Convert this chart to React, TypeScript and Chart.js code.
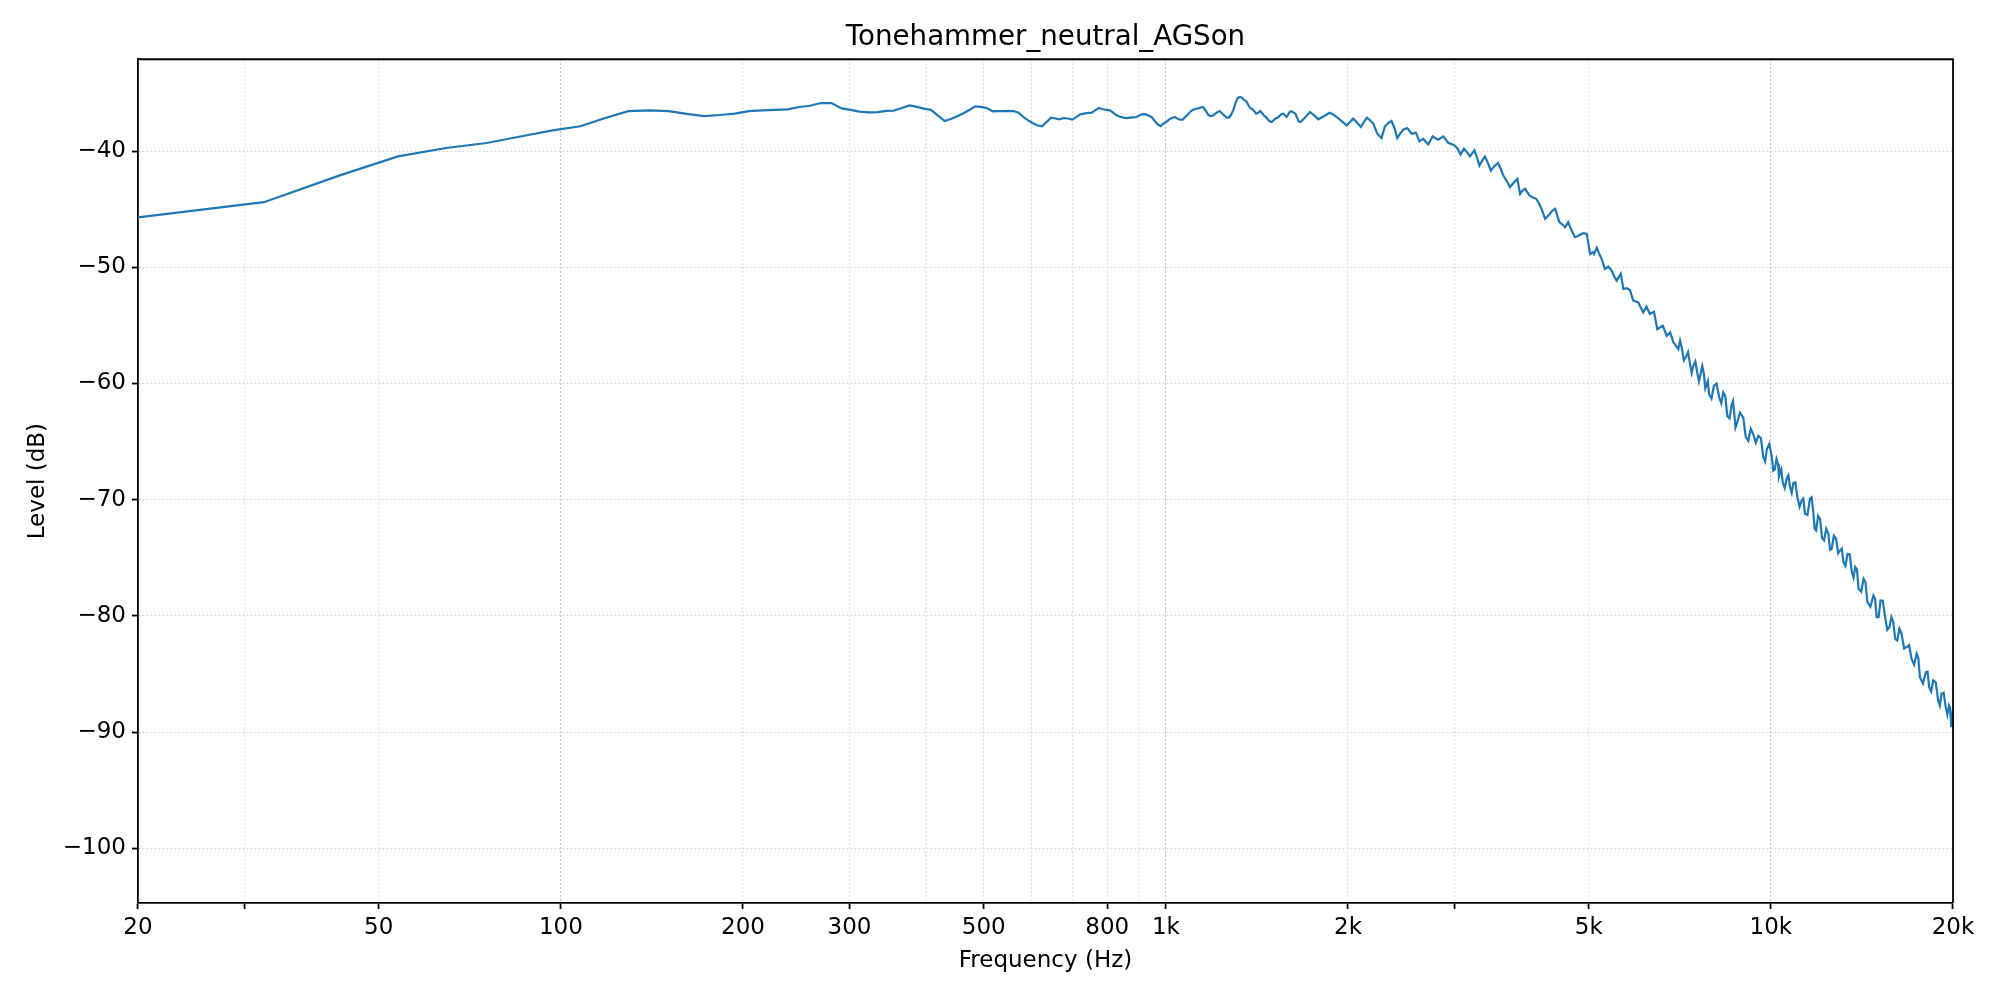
import { useEffect, useRef } from 'react'
import { Chart, registerables } from 'chart.js'

Chart.register(...registerables)

// frequency response (Hz / dB)
const freqs = [
  20, 32.3, 43.1, 53.8, 64.6, 75.4, 86.1, 96.9, 107.7, 118.4, 129.2, 140, 150.7, 161.5, 172.3, 183,
  193.8, 204.5, 215, 226, 237, 248, 258, 269, 280, 291, 301, 312, 323, 334, 345, 355, 366, 377,
  388, 398, 409, 420, 431, 441, 452, 463, 474, 484, 495, 506, 517, 527, 538, 549, 560, 571, 581,
  592, 603, 614, 624, 635, 646, 657, 667, 678, 689, 700, 710, 721, 732, 743, 754, 764, 775, 786,
  797, 808, 818, 829, 840, 851, 861, 872, 883, 894, 904, 915, 926, 937, 947, 958, 969, 980, 990,
  1001, 1012, 1023, 1034, 1044, 1055, 1066, 1077, 1088, 1098, 1109, 1120, 1131, 1141, 1152, 1163,
  1174, 1184, 1195, 1206, 1217, 1227, 1238, 1249, 1260, 1270, 1281, 1292, 1303, 1314, 1324, 1335,
  1346, 1357, 1367, 1378, 1389, 1399, 1410, 1421, 1432, 1443, 1453, 1464, 1475, 1486, 1496, 1507,
  1518, 1529, 1540, 1550, 1561, 1572, 1583, 1593, 1604, 1615, 1626, 1636, 1647, 1658, 1669,
  1700, 1730, 1760, 1786, 1825, 1864, 1890, 1916, 1950, 1990, 2040, 2070, 2100, 2148, 2175, 2202,
  2236, 2272, 2302, 2330, 2360, 2390, 2412, 2440, 2468, 2506, 2548, 2590, 2624, 2662, 2714, 2760,
  2790, 2820, 2874, 2900, 2930, 2965, 3000, 3035, 3070, 3110, 3145, 3182, 3236, 3265, 3298, 3335,
  3368, 3405, 3444, 3490, 3540, 3575, 3612, 3660, 3704, 3760, 3810, 3850, 3885, 3924, 3990, 4050,
  4090, 4128, 4180, 4234, 4288, 4340, 4400, 4470, 4520, 4568, 4624, 4680, 4744, 4800, 4836, 4898,
  4962, 5026, 5080, 5102, 5156, 5200, 5250, 5318, 5386, 5456, 5510, 5560, 5648, 5704, 5780, 5848,
  5924, 6038, 6100, 6152, 6230, 6310, 6410, 6490, 6626, 6728, 6814, 6902, 7032, 7122, 7240, 7352,
  7444, 7556, 7652, 7752, 7830, 7904, 8050, 8216, 8344, 8472, 8616, 8700, 8780, 9002, 9174, 9352,
  9532, 9720, 9848, 10032, 10152, 10280, 10346, 10460, 10620, 10758, 10894, 11060, 11246, 11386,
  11604, 11752, 11878, 12058, 12244, 12446, 12604, 12818, 13014, 13182, 13386, 13610, 13786, 13964,
  14234, 14438, 14774, 14956, 15180, 15446, 15706, 15932, 16180, 16444, 16764, 17084, 17416, 17634,
  18042, 18266, 18546, 18904, 19146, 19454, 19700, 19866, 20000,
]

const levels = [
  -45.7, -44.4, -42.09, -40.46, -39.74, -39.31, -38.73, -38.22, -37.87, -37.16, -36.56, -36.5, -36.56, -36.8, -36.99, -36.9,
  -36.78, -36.56, -36.5, -36.45, -36.41, -36.21, -36.1, -35.87, -35.87, -36.33, -36.45, -36.6, -36.67, -36.65, -36.55, -36.52, -36.3, -36.07,
  -36.2, -36.35, -36.45, -36.95, -37.42, -37.25, -37.0, -36.75, -36.45, -36.15, -36.2, -36.3, -36.58, -36.57, -36.56, -36.55, -36.56, -36.7, -37.05,
  -37.36, -37.6, -37.8, -37.87, -37.5, -37.13, -37.2, -37.27, -37.16, -37.2, -37.3, -37.1, -36.85, -36.78, -36.72, -36.7, -36.5, -36.3, -36.4,
  -36.45, -36.5, -36.7, -36.93, -37.05, -37.12, -37.16, -37.13, -37.1, -37.07, -36.95, -36.82, -36.85, -36.97, -37.07, -37.4, -37.7, -37.85, -37.65,
  -37.5, -37.3, -37.15, -37.07, -37.2, -37.3, -37.3, -37.05, -36.84, -36.6, -36.45, -36.38, -36.33, -36.25, -36.21, -36.5,
  -36.85, -36.99, -36.95, -36.8, -36.65, -36.56, -36.75, -36.95, -37.1, -37.13, -36.9, -36.5, -35.9, -35.45, -35.35, -35.4,
  -35.6, -35.7, -36.0, -36.3, -36.4, -36.55, -36.78, -36.7, -36.56, -36.75, -36.95, -37.07, -37.3, -37.45, -37.5, -37.35,
  -37.2, -37.13, -37.0, -36.85, -36.78, -36.9, -37.07, -36.85, -36.6, -36.58, -36.7, -36.78, -37.1, -37.45, -37.5,
  -37.1, -36.64, -36.95, -37.27, -37.0, -36.7, -36.85, -37.07, -37.4, -37.79, -37.21, -37.55, -37.93, -37.13, -37.35, -37.64,
  -38.51, -38.88, -37.87, -37.6, -37.41, -38.1, -38.88, -38.5, -38.16, -38.02, -38.51, -38.42, -39.17, -38.94, -39.43, -38.74,
  -38.9, -39.02, -38.74, -39.0, -39.31, -39.4, -39.51, -39.8, -40.29, -39.8, -40.1, -40.46, -39.94, -40.5, -41.24, -40.8,
  -40.46, -41.0, -41.67, -41.3, -41.03, -41.5, -42.1, -42.6, -43.1, -42.7, -42.39, -43.68, -43.4, -43.25, -43.82, -44.02,
  -44.1, -44.4, -45.0, -45.83, -45.55, -45.2, -44.97, -46.12, -46.3, -46.55, -46.12, -46.8, -47.41, -47.3, -47.2, -47.07,
  -47.13, -48.85, -48.7, -48.85, -48.33, -48.8, -49.28, -50.14, -49.94, -50.29, -50.8, -51.15, -50.57, -51.87, -51.8, -51.95,
  -52.87, -53.02, -53.5, -53.88, -53.39, -54.02, -53.82, -55.32, -55.03, -55.89, -55.6, -56.47, -57.04, -56.9, -57.7, -58.33,
  -58.48, -59.05, -59.2, -59.2, -60.1, -60.92, -60.2, -61.21, -60.78, -62.79, -61.78, -62.6, -63.51, -62.93, -64.94, -64.37,
  -64.51, -66.38, -65.66, -66.24, -67.39, -66.95, -67.76, -68.48, -68.19, -68.91, -68.57, -69.77, -70.06, -71.2,
  -69.91, -71.06, -72.64, -71.64, -73.5, -72.93, -74.22, -73.36, -74.36, -75.37, -74.65, -76.23, -75.8, -77.66,
  -76.8, -78.81, -78.24, -80.1, -78.67, -80.1, -80.96, -80.53, -82.11, -81.54, -82.68, -83.69, -83.26, -85.27,
  -84.84, -86.13, -85.55, -87.27, -86.7, -87.85, -87.7, -89.57, -89.28,
]

// extra in-between readings of the noisy top end (7k-20k)
const fineFreqs = [
  7077, 7181, 7296, 7398, 7500, 7604, 7702, 7791, 7867, 7977, 8133, 8280, 8408, 8544, 8658, 8740,
  8891, 9088, 9263, 9442, 9626, 9784, 9940, 10092, 10216, 10313, 10403, 10540, 10689, 10826, 10977,
  11153, 11316, 11495, 11678, 11815, 11968, 12151, 12345, 12525, 12711, 12916, 13098, 13284, 13498,
  13698, 13875, 14099, 14336, 14606, 14865, 15068, 15313, 15576, 15819, 16056, 16312, 16604, 16924,
  17250, 17525, 17838, 18154, 18406, 18725, 19025, 19300, 19577, 19783, 19933,
]
const fineLevels = [
  -56.3, -58.0, -57.3, -59.1, -58.1, -59.8, -58.5, -60.4, -59.8, -61.3, -60.0, -61.7, -61.1, -63.0, -61.5, -63.8,
  -62.5, -64.6, -63.9, -65.1, -64.7, -66.7, -65.2, -67.5, -66.5, -68.0, -67.4, -69.0, -67.9, -69.4, -68.5,
  -70.6, -69.9, -71.3, -69.8, -72.5, -71.4, -73.3, -72.5, -74.3, -73.1, -74.6, -74.2, -75.7, -74.7,
  -76.7, -76.0, -77.9, -77.1, -79.2, -78.5, -80.1, -78.7, -81.2, -80.1, -82.0, -81.1, -82.8, -82.5,
  -84.2, -83.6, -85.8, -84.8, -86.5, -85.7, -87.7, -86.6, -88.5, -87.9, -88.8,
]

// x gridlines / ticks
const xTickValues = [20, 30, 50, 100, 200, 300, 400, 500, 600, 700, 800, 900, 1000, 2000, 3000, 5000, 10000, 20000]
const xTickLabels = ['20', '', '50', '100', '200', '300', '', '500', '', '', '800', '', '1k', '2k', '', '5k', '10k', '20k']
const xNoTickMark = [400, 600, 700, 900]
const xDecades = [100, 1000, 10000]
const yTickValues = [-100, -90, -80, -70, -60, -50, -40]

const FONT = "'DejaVu Sans', sans-serif"

const frame = {
  id: 'frame',
  afterDatasetsDraw(chart: any) {
    const { ctx, chartArea } = chart
    ctx.save()
    ctx.strokeStyle = '#000'
    ctx.lineWidth = 1.8
    ctx.beginPath()
    ctx.moveTo(chartArea.left, chartArea.top)
    ctx.lineTo(chartArea.right, chartArea.top)
    ctx.lineTo(chartArea.right, chartArea.bottom)
    ctx.stroke()
    ctx.restore()
  },
}

export default function App() {
  const canvasRef = useRef<HTMLCanvasElement>(null)
  const chartRef = useRef<Chart | null>(null)

  useEffect(() => {
    if (!canvasRef.current) return
    const points = freqs.map((f, i) => ({ x: f, y: levels[i] }))
      .concat(fineFreqs.map((f, i) => ({ x: f, y: fineLevels[i] })))
      .sort((a, b) => a.x - b.x)

    const config: any = {
      type: 'scatter',
      data: {
        datasets: [{
          data: points,
          showLine: true,
          borderColor: '#1f77b4',
          borderWidth: 2.2,
          pointRadius: 0,
          tension: 0,
        }],
      },
      options: {
        animation: false,
        responsive: true,
        maintainAspectRatio: false,
        devicePixelRatio: 1,
        layout: { padding: { left: 0, right: 47, top: 0, bottom: 0 } },
        plugins: {
          legend: { display: false },
          tooltip: { enabled: false },
          title: {
            display: true,
            text: 'Tonehammer_neutral_AGSon',
            color: '#000',
            fullSize: false,
            font: { family: FONT, size: 27.7, weight: 'normal', lineHeight: 1.2 },
            padding: { top: 21, bottom: 5 },
          },
        },
        scales: {
          x: {
            type: 'logarithmic',
            min: 20,
            max: 20000,
            afterBuildTicks: (scale: any) => {
              scale.ticks = xTickValues.map(v => ({ value: v }))
            },
            afterFit: (scale: any) => { scale.height = 97 },
            ticks: {
              autoSkip: false,
              maxRotation: 0,
              color: '#000',
              padding: 5,
              font: { family: FONT, size: 23 },
              callback: (v: number) => {
                const i = xTickValues.indexOf(v)
                return i >= 0 ? xTickLabels[i] : ''
              },
            },
            grid: {
              color: (ctx: any) => (ctx.tick && xDecades.includes(ctx.tick.value) ? '#b0b0b0' : '#d6d6d6'),
              lineWidth: 1.1,
              tickLength: 6,
              tickWidth: 1.8,
              tickColor: (ctx: any) => (ctx.tick && xNoTickMark.includes(ctx.tick.value) ? 'rgba(0,0,0,0)' : '#000'),
            },
            border: { display: true, color: '#000', width: 1.8, dash: [1.5, 2.5] },
            title: {
              display: true,
              text: 'Frequency (Hz)',
              color: '#000',
              font: { family: FONT, size: 23, lineHeight: 1.2 },
              padding: { top: 0, bottom: 25 },
            },
          },
          y: {
            type: 'linear',
            min: -104.7,
            max: -32.1,
            afterBuildTicks: (scale: any) => {
              scale.ticks = yTickValues.map(v => ({ value: v }))
            },
            afterFit: (scale: any) => { scale.width = 138 },
            ticks: {
              color: '#000',
              padding: 6,
              font: { family: FONT, size: 23 },
              callback: (v: number) => String(v).replace('-', '\u2212'),
            },
            grid: {
              color: '#cccccc',
              lineWidth: 1.1,
              tickLength: 6,
              tickWidth: 1.8,
              tickColor: '#000',
            },
            border: { display: true, color: '#000', width: 1.8, dash: [1.5, 2.5] },
            title: {
              display: true,
              text: 'Level (dB)',
              color: '#000',
              font: { family: FONT, size: 23, lineHeight: 1.2 },
              padding: { top: 24, bottom: 0 },
            },
          },
        },
      },
      plugins: [frame],
    }

    if (chartRef.current) chartRef.current.destroy()
    chartRef.current = new Chart(canvasRef.current, config)

    return () => {
      if (chartRef.current) {
        chartRef.current.destroy()
        chartRef.current = null
      }
    }
  }, [])

  return (
    <div style={{ position: 'absolute', left: 0, top: 0, width: 2000, height: 1000, background: '#fff' }}>
      <canvas ref={canvasRef} />
    </div>
  )
}
